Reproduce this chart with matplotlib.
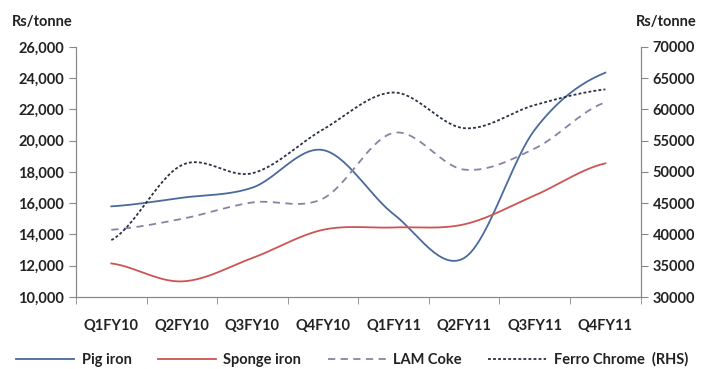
import numpy as np
import matplotlib.pyplot as plt
from matplotlib.ticker import FuncFormatter

plt.rcParams['font.family'] = ['Lato', 'DejaVu Sans']

quarters = ['Q1FY10', 'Q2FY10', 'Q3FY10', 'Q4FY10', 'Q1FY11', 'Q2FY11', 'Q3FY11', 'Q4FY11']
pig_iron = [15800, 16350, 17000, 19400, 15300, 12500, 20700, 24350]
sponge_iron = [12150, 11000, 12500, 14300, 14450, 14650, 16500, 18550]
lam_coke = [14300, 15000, 16050, 16300, 20500, 18150, 19500, 22450]
ferro_chrome = [39100, 51100, 49800, 56800, 62700, 57000, 60700, 63200]


def smooth(x, y, n=30):
    # Catmull-Rom style curve through every point, like a spreadsheet "smoothed line"
    x = np.asarray(x, float)
    y = np.asarray(y, float)
    px = np.concatenate([[2 * x[0] - x[1]], x, [2 * x[-1] - x[-2]]])
    py = np.concatenate([[y[0]], y, [y[-1]]])
    xs, ys = [], []
    for i in range(1, len(px) - 2):
        t = np.linspace(0, 1, n, endpoint=False)
        p0, p1, p2, p3 = py[i - 1], py[i], py[i + 1], py[i + 2]
        q0, q1, q2, q3 = px[i - 1], px[i], px[i + 1], px[i + 2]
        c1y, c2y = p1 + (p2 - p0) / 6, p2 - (p3 - p1) / 6
        c1x, c2x = q1 + (q2 - q0) / 6, q2 - (q3 - q1) / 6
        b = [(1 - t) ** 3, 3 * (1 - t) ** 2 * t, 3 * (1 - t) * t ** 2, t ** 3]
        xs.append(b[0] * q1 + b[1] * c1x + b[2] * c2x + b[3] * q2)
        ys.append(b[0] * p1 + b[1] * c1y + b[2] * c2y + b[3] * p2)
    xs.append([x[-1]])
    ys.append([y[-1]])
    return np.concatenate(xs), np.concatenate(ys)


x = np.arange(len(quarters))
fig = plt.figure(figsize=(7.04, 3.69), dpi=100)
ax = fig.add_axes([0.108, 0.195, 0.802, 0.678])
ax2 = ax.twinx()

lines = []
lines += ax.plot(*smooth(x, pig_iron), color='#4a6a9c', lw=1.3, label='Pig iron')
lines += ax.plot(*smooth(x, sponge_iron), color='#cc5553', lw=1.3, label='Sponge iron')
lines += ax.plot(*smooth(x, lam_coke), color='#8a82a6', lw=1.3, dashes=(4, 3), label='LAM Coke')
lines += ax2.plot(*smooth(x, ferro_chrome), color='#2a3244', lw=1.3, dashes=(1.6, 1.2),
                  label='Ferro Chrome  (RHS)')

ax.set_xlim(-0.5, len(quarters) - 0.5)
ax.set_ylim(10000, 26000)
ax.set_yticks(np.arange(10000, 26001, 2000))
ax.yaxis.set_major_formatter(FuncFormatter(lambda v, p: f'{v:,.0f}'))
ax2.set_ylim(30000, 70000)
ax2.set_yticks(np.arange(30000, 70001, 5000))
ax2.yaxis.set_major_formatter(FuncFormatter(lambda v, p: f'{v:.0f}'))

ax.set_xticks(x)
ax.set_xticklabels(quarters)
ax.set_xticks(np.arange(-0.5, len(quarters)), minor=True)
ax.tick_params(axis='x', which='major', length=0, pad=16)
ax.tick_params(axis='x', which='minor', length=5, color='#888888')

for a in (ax, ax2):
    a.spines['top'].set_visible(False)
    for s in ('left', 'right', 'bottom'):
        a.spines[s].set_color('#888888')
    a.tick_params(axis='y', length=5, color='#888888', labelsize=10.5, labelcolor='#222222')
    for lbl in a.get_yticklabels():
        lbl.set_fontweight('bold')
for lbl in ax.get_xticklabels():
    lbl.set_fontweight('bold')
    lbl.set_fontsize(10.5)
    lbl.set_color('#222222')

fig.text(0.017, 0.93, 'Rs/tonne', fontsize=10.5, fontweight='bold', color='#222222')
fig.text(0.99, 0.93, 'Rs/tonne', fontsize=10.5, fontweight='bold', color='#222222', ha='right')

leg = fig.legend(handles=lines, loc='lower center', bbox_to_anchor=(0.5, -0.03), ncol=4,
                 frameon=False, handlelength=4.0, columnspacing=1.8, handletextpad=0.5,
                 prop={'size': 10.5, 'weight': 'bold'})
for t in leg.get_texts():
    t.set_color('#222222')

fig.savefig('out.png', dpi=100)
